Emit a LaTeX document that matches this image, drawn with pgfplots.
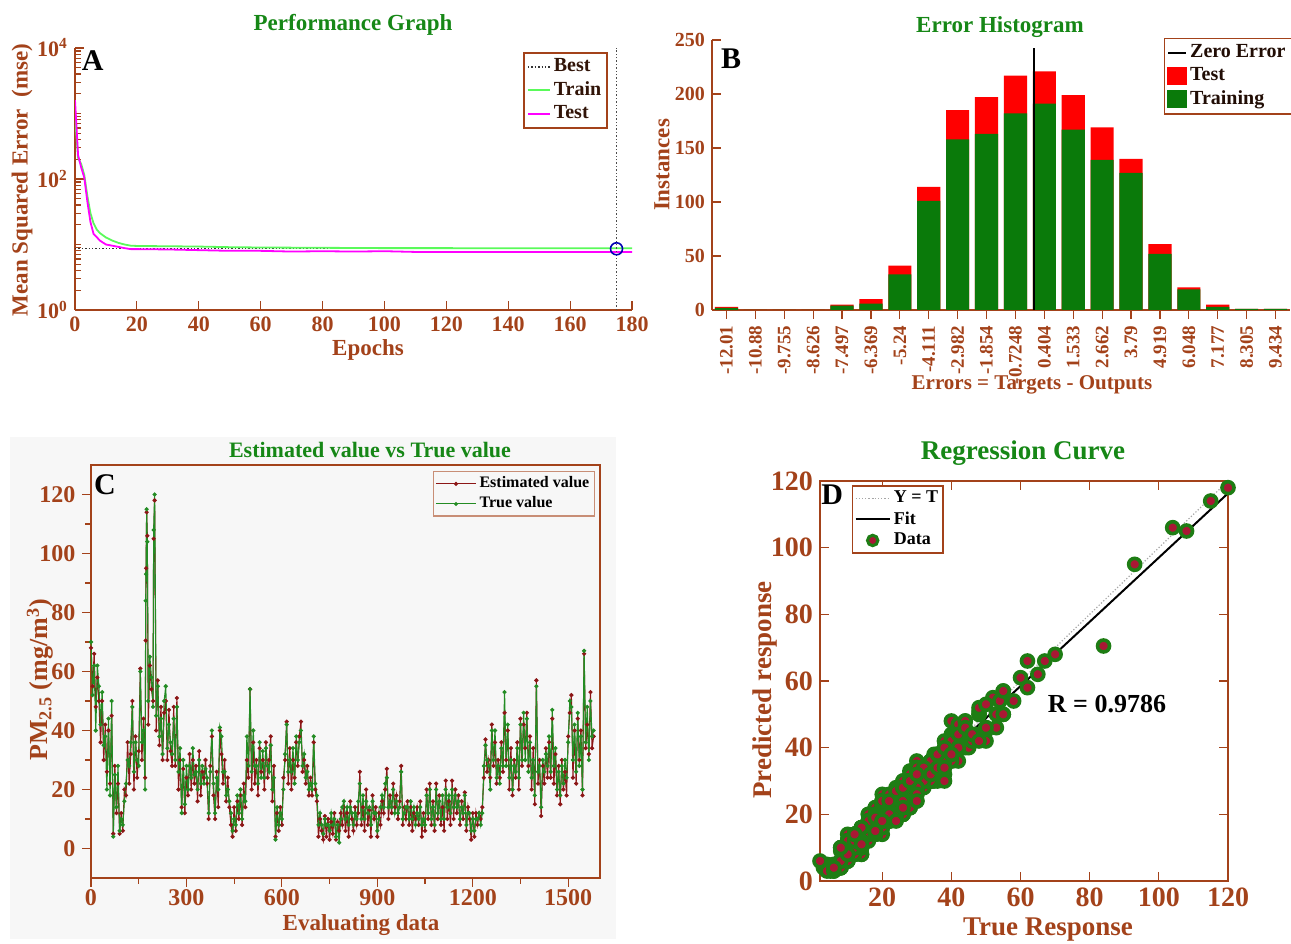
\documentclass[border=0pt]{standalone}
\usepackage{fontspec}
\setmainfont{Liberation Serif}
\usepackage{pgfplots}
\usepackage{pgfplotstable}
\pgfplotsset{compat=1.18}

\definecolor{brn}{RGB}{163,66,26}
\definecolor{ttl}{RGB}{22,135,22}
\definecolor{trn}{RGB}{90,250,90}
\definecolor{tst}{RGB}{255,0,255}
\definecolor{bargreen}{RGB}{10,122,10}
\definecolor{est}{RGB}{140,22,22}
\definecolor{tru}{RGB}{35,140,35}
\definecolor{dotred}{RGB}{168,24,52}
\definecolor{ring}{RGB}{30,125,20}

\newcommand{\fs}[1]{\fontsize{#1}{#1}\selectfont\bfseries}

% error histogram: bin index, training count, total count
\pgfplotstableread{
bin train total
1 2 3
2 0 0
3 0 0
4 0 0
5 4 5
6 6 10
7 33 41
8 101 114
9 158 185
10 163 197
11 182 217
12 191 221
13 167 199
14 139 169
15 127 140
16 52 61
17 19 21
18 3 5
19 1 1
20 1 1
}\hist

% PM2.5: sample index, estimated, true
\pgfplotstableread{
x e t
0 68 70
5 55 52
10 66 62
15 48 40
20 58 62
25 50 55
30 36 42
35 50 53
40 30 35
45 42 38
50 26 20
55 40 44
60 22 18
65 45 50
70 5 4
75 28 25
80 12 14
85 22 28
90 5 6
95 12 10
100 6 8
105 20 16
110 18 22
115 36 30
120 22 28
125 32 36
130 50 48
135 20 26
140 38 36
145 24 30
150 33 28
155 61 60
160 30 36
165 44 40
170 24 20
172 70.5 84
173 95 93
175 114 115
177 106 104
180 42 50
185 62 65
190 54 58
195 50 48
197 105 108
200 118 120
205 40 45
210 57 55
215 35 38
220 48 44
225 30 32
230 46 50
235 50 55
240 30 34
245 47 42
250 33 36
255 28 32
260 48 44
265 28 30
270 51 48
275 20 26
280 30 34
285 14 12
290 27 30
295 12 15
300 24 28
305 18 20
310 32 28
315 20 24
320 30 34
325 22 25
330 28 26
335 16 20
340 33 30
345 18 22
350 26 28
355 24 22
360 30 27
365 22 24
370 10 12
375 28 26
380 38 40
385 18 22
390 10 12
395 26 24
400 14 20
405 40 41
410 32 38
415 22 26
420 30 26
425 16 18
430 24 20
435 14 16
440 8 12
445 4 6
450 14 10
455 6 8
460 16 18
465 10 12
470 18 20
475 8 10
480 22 18
485 14 16
490 30 38
495 24 28
500 54 54
505 20 26
510 36 40
515 22 28
520 30 28
525 18 22
530 34 36
535 26 24
540 30 33
545 20 24
550 36 34
555 24 28
560 30 26
565 38 35
570 16 20
575 28 24
580 4 3
585 12 14
590 6 8
595 14 12
600 8 10
605 24 20
610 30 32
615 43 42
620 22 26
625 34 30
630 20 26
635 30 34
640 24 22
645 36 38
650 28 30
655 38 36
660 43 40
665 26 28
670 30 32
675 22 24
680 28 26
685 18 20
690 24 22
695 18 20
700 36 38
705 20 22
710 16 18
715 4 8
720 10 12
725 6 8
730 3 5
735 11 10
740 4 8
745 10 8
750 3 6
755 9 12
760 5 8
765 12 10
770 3 4
775 9 8
780 6 2
785 12 10
790 8 14
795 14 16
800 6 10
805 12 14
810 4 8
815 16 14
820 10 12
825 6 8
830 14 12
835 8 10
840 12 16
845 26 22
850 8 10
855 14 18
860 6 10
865 20 16
870 8 12
875 13 14
880 4 8
885 18 16
890 10 12
895 14 12
900 4 6
905 12 10
910 8 14
915 16 18
920 12 14
925 20 22
930 27 24
935 10 14
940 18 16
945 12 14
950 22 20
955 14 12
960 18 16
965 10 12
970 16 14
975 28 26
980 8 10
985 14 12
990 10 14
995 16 14
1000 8 10
1005 14 16
1010 6 10
1015 12 14
1020 10 8
1025 14 12
1030 8 10
1035 16 14
1040 4 8
1045 12 10
1050 6 8
1055 20 18
1060 10 12
1065 22 20
1070 8 10
1075 16 14
1080 6 8
1085 22 20
1090 10 12
1095 18 16
1100 8 10
1105 14 18
1110 6 10
1115 23 20
1120 10 14
1125 16 18
1130 8 12
1135 23 20
1140 10 14
1145 20 18
1150 12 14
1155 18 16
1160 8 10
1165 16 14
1170 10 12
1175 19 18
1180 6 8
1185 14 12
1190 10 12
1195 3 6
1200 12 10
1205 4 6
1210 12 10
1215 8 10
1220 12 12
1225 10 8
1230 14 12
1235 24 28
1240 37 35
1245 26 30
1250 30 28
1255 24 20
1260 42 40
1265 28 30
1270 36 40
1275 22 24
1280 30 28
1285 24 22
1290 36 34
1295 26 28
1300 46 53
1305 30 28
1310 40 42
1315 20 24
1320 34 30
1325 18 20
1330 30 28
1335 24 26
1340 36 34
1345 20 24
1350 44 42
1355 28 30
1360 42 46
1365 34 30
1370 46 44
1375 28 26
1380 38 36
1385 20 24
1390 34 30
1395 15 18
1400 57 55
1405 22 26
1410 30 28
1415 11 14
1420 28 30
1425 22 26
1430 34 32
1435 24 28
1440 36 38
1445 24 26
1450 44 47
1455 22 28
1460 32 34
1465 18 20
1470 28 26
1475 15 18
1480 30 28
1485 20 22
1490 26 30
1495 18 24
1500 38 36
1505 46 50
1510 52 48
1515 24 30
1520 40 42
1525 22 26
1530 44 46
1535 30 28
1540 40 38
1545 18 20
1550 66 67
1555 34 36
1560 42 48
1565 32 30
1570 53 50
1575 34 38
1580 38 40
}\pmdata

\pgfplotsset{
  panel/.style={
    scale only axis,
    axis line style={brn, line width=0.8pt},
    tick style={brn, line width=0.6pt},
    tick label style={text=brn},
    /pgf/number format/assume math mode=true,
    /pgf/number format/1000 sep={},
  },
}

\begin{document}
\bfseries
\begin{tikzpicture}
\path[use as bounding box] (0,0) rectangle (645.5pt,471.5pt);
\fill[black!3] (5pt,2pt) rectangle (308pt,253pt);

% ---------------- A ----------------
\begin{axis}[panel,
    at={(37.5pt,316.5pt)}, anchor=south west,
    width=278.5pt, height=131pt,
    axis lines*=left, axis line style={-},
    ymode=log, xmin=0, xmax=180, ymin=1, ymax=10000,
    xtick={0,20,...,180},
    ytick={1,100,10000},
    yticklabels={10\textsuperscript{0},10\textsuperscript{2},10\textsuperscript{4}},
    minor ytick={2,3,4,5,6,7,8,9,10,20,30,40,50,60,70,80,90,200,300,400,500,600,700,800,900,1000,2000,3000,4000,5000,6000,7000,8000,9000},
    tick align=inside,
    tick label style={font={\fs{11}}},
    legend style={at={(rel axis cs:0.957,0.985)}, anchor=north east,
      draw=brn, line width=0.8pt, font={\fs{10}}, text=black!70!brn,
      inner sep=1.5pt, row sep=0.5pt, nodes={inner sep=1.5pt}},
    legend image code/.code={\draw[#1, line width=0.9pt] (0pt,0pt) -- (11pt,0pt);},
    legend cell align=left,
  ]
  \addplot[black!80, densely dotted, line width=0.7pt] coordinates {(0,8.6) (180,8.6)};
  \addlegendentry{Best}
  \addplot[trn, line width=0.9pt] coordinates {
    (0,900) (1,210) (2,170) (3,115) (4,55) (5,30) (6,21) (7,17) (8,15)
    (10,12.8) (12,11.5) (14,10.6) (16,10) (18,9.6) (20,9.5) (30,9.4)
    (40,9.3) (50,9.1) (60,9.0) (80,8.9) (100,8.8) (120,8.8) (140,8.75)
    (160,8.75) (175,8.75) (180,8.75)};
  \addlegendentry{Train}
  \addplot[tst, line width=0.9pt] coordinates {
    (0,1600) (1,230) (2,150) (3,105) (4,45) (5,22) (6,14.5) (7,13) (8,11.5)
    (10,10) (12,9.6) (14,9.2) (16,8.8) (18,8.5) (20,8.5) (30,8.4) (40,8.2)
    (50,8.0) (60,8.0) (70,7.8) (80,7.9) (90,7.8) (100,7.9) (110,7.7)
    (140,7.7) (180,7.7)};
  \addlegendentry{Test}
  \addplot[black!70, densely dotted, line width=0.7pt, forget plot] coordinates {(175,1) (175,10000)};
  \addplot[only marks, mark=o, mark size=3pt, blue!70!black, line width=0.8pt, forget plot] coordinates {(175,8.6)};
  \node[font={\fs{15}}, text=black] at (rel axis cs:0.032,0.95) {A};
\end{axis}
\node[font={\fs{11.5}}, text=ttl] at (176.5pt,459pt) {Performance Graph};
\node[font={\fs{11.5}}, text=brn] at (184pt,296.5pt) {Epochs};
\node[font={\fs{11.5}}, text=brn, rotate=90] at (11pt,381.5pt) {Mean Squared Error\ \ (mse)};

% ---------------- B ----------------
\begin{axis}[panel,
    at={(356pt,316.5pt)}, anchor=south west,
    width=289pt, height=135pt,
    axis lines*=left, axis line style={-},
    xmin=0.5, xmax=20.5, ymin=0, ymax=250,
    ytick={0,50,...,250},
    xtick={1,...,20},
    xticklabels={-12.01,-10.88,-9.755,-8.626,-7.497,-6.369,-5.24,-4.111,-2.982,-1.854,-0.7248,0.404,1.533,2.662,3.79,4.919,6.048,7.177,8.305,9.434},
    x tick label style={rotate=90, anchor=east, font={\fs{9.5}}},
    y tick label style={font={\fs{10}}},
    tick align=inside,
    ybar, bar width=0.8,
    legend style={at={(rel axis cs:1.004,1.008)}, anchor=north east,
      draw=brn, line width=0.8pt, font={\fs{10}}, text=black!80!brn,
      inner sep=1.5pt, row sep=0.5pt, nodes={inner sep=1.5pt}},
    legend cell align=left,
  ]
  \addlegendimage{legend image code/.code={\draw[black, line width=0.9pt] (0pt,0pt) -- (9pt,0pt);}}
  \addlegendentry{Zero Error}
  \addlegendimage{legend image code/.code={\fill[red] (0pt,-4pt) rectangle (9pt,4pt);}}
  \addlegendentry{Test}
  \addlegendimage{legend image code/.code={\fill[bargreen] (0pt,-4pt) rectangle (9pt,4pt);}}
  \addlegendentry{Training}
  \addplot[fill=red, draw=none, bar shift=0pt, forget plot] table[x=bin, y=total] {\hist};
  \addplot[fill=bargreen, draw=none, bar shift=0pt, forget plot] table[x=bin, y=train] {\hist};
  \addplot[sharp plot, black, line width=0.9pt, forget plot] coordinates {(11.64,0) (11.64,243)};
  \node[font={\fs{15}}, text=black] at (rel axis cs:0.033,0.93) {B};
\end{axis}
\node[font={\fs{11.5}}, text=ttl] at (500pt,458pt) {Error Histogram};
\node[font={\fs{10.5}}, text=brn] at (516pt,279pt) {Errors = Targets - Outputs};
\node[font={\fs{11.5}}, text=brn, rotate=90] at (331pt,389pt) {Instances};

% ---------------- C ----------------
\begin{axis}[panel,
    at={(45.5pt,32.5pt)}, anchor=south west,
    width=254.5pt, height=206.5pt,
    xmin=0, xmax=1600, ymin=-10, ymax=130,
    xtick={0,300,...,1500}, ytick={0,20,...,120},
    minor x tick num=1, minor y tick num=1,
    xtick pos=bottom, ytick pos=left,
    tick align=outside,
    tick label style={font={\fs{12}}},
    x tick label style={yshift=2pt},
    axis background/.style={fill=black!3},
    legend style={at={(rel axis cs:0.99,0.985)}, anchor=north east,
      draw=brn!60, line width=0.6pt, font={\fs{8}}, text=black,
      fill=black!3, inner sep=1pt, row sep=0pt, nodes={inner sep=1.5pt}},
    legend image code/.code={\draw[#1] (0pt,0pt) -- (20pt,0pt); \fill[#1] (10pt,0pt) circle (0.7pt);},
    legend cell align=left,
  ]
  \addplot[est, line width=0.55pt, mark=*, mark size=0.75pt] table[x=x, y=e] {\pmdata};
  \addlegendentry{Estimated value}
  \addplot[tru, line width=0.55pt, mark=*, mark size=0.75pt] table[x=x, y=t] {\pmdata};
  \addlegendentry{True value}
  \node[font={\fs{15}}, text=black] at (rel axis cs:0.0275,0.952) {C};
\end{axis}
\node[font={\fs{11}}, text=ttl] at (185pt,246.5pt) {Estimated value vs True value};
\node[font={\fs{11.5}}, text=brn] at (180.5pt,9pt) {Evaluating data};
\node[font={\fs{13}}, text=brn, rotate=90] at (20pt,131.5pt) {PM\textsubscript{2.5} (mg/m\textsuperscript{3})};

% ---------------- D ----------------
\begin{axis}[panel,
    at={(410pt,31pt)}, anchor=south west,
    width=204pt, height=200pt,
    xmin=2, xmax=120, ymin=0, ymax=120,
    xtick={20,40,...,120}, ytick={0,20,...,120},
    tick align=inside,
    tick label style={font={\fs{14}}},
    legend style={at={(rel axis cs:0.078,0.99)}, anchor=north west,
      draw=brn, line width=0.8pt, font={\fs{9}}, text=black,
      inner sep=1pt, row sep=0pt, nodes={inner sep=1.5pt}},
    legend cell align=left,
  ]
  \addlegendimage{gray!70, densely dotted, line width=0.6pt}
  \addlegendentry{Y = T}
  \addlegendimage{black, line width=1pt}
  \addlegendentry{Fit}
  \addlegendimage{only marks, mark=*, mark size=2.6pt, mark options={fill=dotred, draw=ring, line width=1.5pt}}
  \addlegendentry{Data}
  \addplot[only marks, mark=*, mark size=3pt, mark options={fill=dotred, draw=ring, line width=1.8pt}, forget plot] table[x=t, y=e] {\pmdata};
  \addplot[gray!70, densely dotted, line width=0.6pt, forget plot] coordinates {(2,2) (120,120)};
  \addplot[black, line width=1pt, forget plot] coordinates {(2,2.6) (120,116.3)};
  \node[font={\fs{13}}, text=black] at (axis cs:85,53) {R = 0.9786};
  \node[font={\fs{15}}, text=black] at (rel axis cs:0.03,0.965) {D};
\end{axis}
\node[font={\fs{13.5}}, text=ttl] at (511.5pt,245pt) {Regression Curve};
\node[font={\fs{13.5}}, text=brn] at (524pt,6.5pt) {True Response};
\node[font={\fs{13.5}}, text=brn, rotate=90] at (382.5pt,126.5pt) {Predicted response};
\end{tikzpicture}
\end{document}
